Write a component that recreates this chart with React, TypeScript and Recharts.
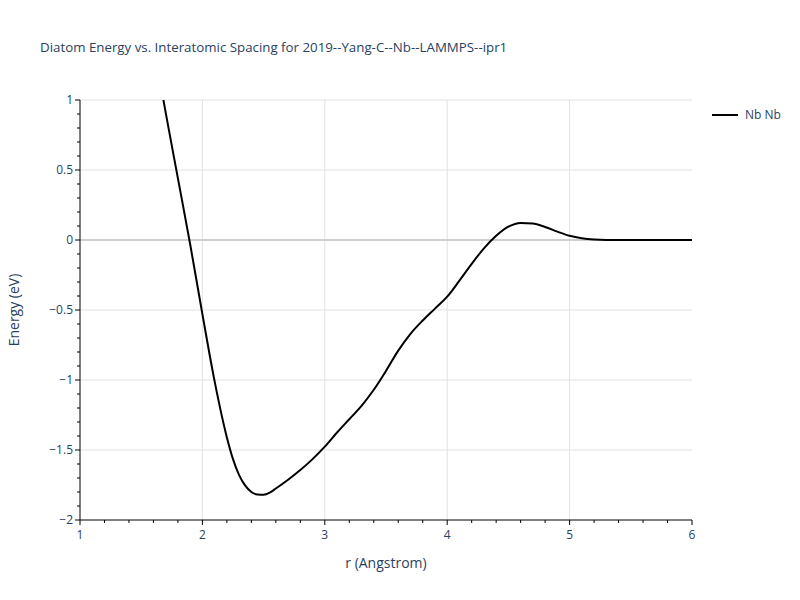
import React from 'react';
import { LineChart, Line, XAxis, YAxis, ReferenceLine, Label } from 'recharts';

const seriesName = 'Nb Nb';
const chartTitle = 'Diatom Energy vs. Interatomic Spacing for 2019--Yang-C--Nb--LAMMPS--ipr1';

// r (Angstrom) sample points
const rValues = [
  1.6, 1.7, 1.8, 1.9, 2.0, 2.1, 2.2, 2.25, 2.3, 2.35, 2.4, 2.45, 2.5, 2.55, 2.6, 2.7, 2.8, 2.9,
  3.0, 3.1, 3.2, 3.3, 3.4, 3.5, 3.6, 3.7, 3.8, 3.9, 4.0, 4.1, 4.2, 4.3, 4.4, 4.5, 4.6, 4.7,
  4.8, 4.9, 5.0, 5.1, 5.2, 5.3, 5.4, 5.5, 5.6, 5.7, 5.8, 5.9, 6.0,
];
// energy (eV)
const energyValues = [
  1.4, 0.91, 0.44, -0.03, -0.53, -1.01, -1.41, -1.565, -1.68, -1.755, -1.8, -1.818, -1.82, -1.805, -1.775, -1.712, -1.643, -1.565,
  -1.476, -1.375, -1.28, -1.185, -1.07, -0.935, -0.79, -0.67, -0.575, -0.49, -0.405, -0.29, -0.17, -0.06, 0.03, 0.095, 0.122, 0.118,
  0.093, 0.06, 0.03, 0.012, 0.003, 0, 0, 0, 0, 0, 0, 0, 0,
];

const xTicks = [1, 1.2, 1.4, 1.6, 1.8, 2, 2.2, 2.4, 2.6, 2.8, 3, 3.2, 3.4, 3.6, 3.8, 4, 4.2, 4.4, 4.6, 4.8, 5, 5.2, 5.4, 5.6, 5.8, 6];
const xMajorTicks = [1, 2, 3, 4, 5, 6];
const xGridValues = [2, 3, 4, 5];

const yTicks = [
  -2, -1.9, -1.8, -1.7, -1.6, -1.5, -1.4, -1.3, -1.2, -1.1, -1, -0.9, -0.8, -0.7, -0.6, -0.5,
  -0.4, -0.3, -0.2, -0.1, 0, 0.1, 0.2, 0.3, 0.4, 0.5, 0.6, 0.7, 0.8, 0.9, 1,
];
const yMajorTicks = [-2, -1.5, -1, -0.5, 0, 0.5, 1];
const yGridValues = [-1.5, -1, -0.5, 0.5, 1];

const data = rValues.map((r, i) => ({ r, energy: energyValues[i] }));

const FONT = '"Open Sans", verdana, arial, sans-serif';
const TEXT = '#2a3f5f';

const isMajor = (v: number, majors: number[]) => majors.some((m) => Math.abs(m - v) < 1e-6);
const fmt = (v: number) => (v < 0 ? '\u2212' + Math.abs(v) : String(v));

function XTick({ x, y, payload }: any) {
  const major = isMajor(payload.value, xMajorTicks);
  return (
    <g>
      <line x1={x} x2={x} y1={y} y2={y + (major ? 5 : 3)} stroke="#000" />
      {major && (
        <text x={x} y={y + 19} textAnchor="middle" fill={TEXT} fontSize={12} fontFamily={FONT}>
          {payload.value}
        </text>
      )}
    </g>
  );
}

function YTick({ x, y, payload }: any) {
  const major = isMajor(payload.value, yMajorTicks);
  return (
    <g>
      <line x1={x - (major ? 5 : 3)} x2={x} y1={y} y2={y} stroke="#000" />
      {major && (
        <text x={x - 7} y={y + 4} textAnchor="end" fill={TEXT} fontSize={12} fontFamily={FONT}>
          {fmt(payload.value)}
        </text>
      )}
    </g>
  );
}

export default function App() {
  return (
    <div style={{ position: 'absolute', left: 0, top: 0, width: 800, height: 600, background: '#fff' }}>
      <div style={{ position: 'absolute', left: 40, top: 38, fontFamily: FONT, fontSize: 13.3, color: TEXT, whiteSpace: 'nowrap' }}>
        {chartTitle}
      </div>
      <div
        style={{
          position: 'absolute',
          left: 712,
          top: 106,
          display: 'flex',
          alignItems: 'center',
          fontFamily: FONT,
          fontSize: 12,
          color: TEXT,
          zIndex: 2,
        }}
      >
        <span style={{ display: 'inline-block', width: 26, height: 2, background: '#000', marginRight: 7 }} />
        <span style={{ lineHeight: '18px' }}>{seriesName}</span>
      </div>
      <LineChart width={800} height={600} data={data} margin={{ top: 100, right: 108, bottom: 0, left: 0 }}>
        {xGridValues.map((v) => (
          <ReferenceLine key={'gx' + v} x={v} stroke="#e2e2e2" strokeWidth={1} />
        ))}
        {yGridValues.map((v) => (
          <ReferenceLine key={'gy' + v} y={v} stroke="#e2e2e2" strokeWidth={1} />
        ))}
        <ReferenceLine y={0} stroke="#cfcfcf" strokeWidth={2} />
        <XAxis
          dataKey="r"
          type="number"
          domain={[1, 6]}
          ticks={xTicks}
          interval={0}
          height={80}
          tickSize={0}
          tickMargin={0}
          tickLine={false}
          axisLine={{ stroke: '#000' }}
          tick={<XTick />}
        >
          <Label
            content={({ viewBox }: any) => (
              <text
                x={viewBox.x + viewBox.width / 2}
                y={viewBox.y + 48}
                textAnchor="middle"
                fill={TEXT}
                fontSize={14}
                fontFamily={FONT}
              >
                r (Angstrom)
              </text>
            )}
          />
        </XAxis>
        <YAxis
          type="number"
          domain={[-2, 1]}
          ticks={yTicks}
          interval={0}
          width={80}
          allowDataOverflow
          tickSize={0}
          tickMargin={0}
          tickLine={false}
          axisLine={{ stroke: '#000' }}
          tick={<YTick />}
        >
          <Label
            content={({ viewBox }: any) => {
              const cx = viewBox.x + 19;
              const cy = viewBox.y + viewBox.height / 2;
              return (
                <text
                  x={cx}
                  y={cy}
                  transform={`rotate(-90 ${cx} ${cy})`}
                  textAnchor="middle"
                  fill={TEXT}
                  fontSize={14}
                  fontFamily={FONT}
                >
                  Energy (eV)
                </text>
              );
            }}
          />
        </YAxis>
        <Line
          dataKey="energy"
          name={seriesName}
          type="monotone"
          stroke="#000"
          strokeWidth={2}
          dot={false}
          activeDot={false}
          isAnimationActive={false}
        />
      </LineChart>
    </div>
  );
}
